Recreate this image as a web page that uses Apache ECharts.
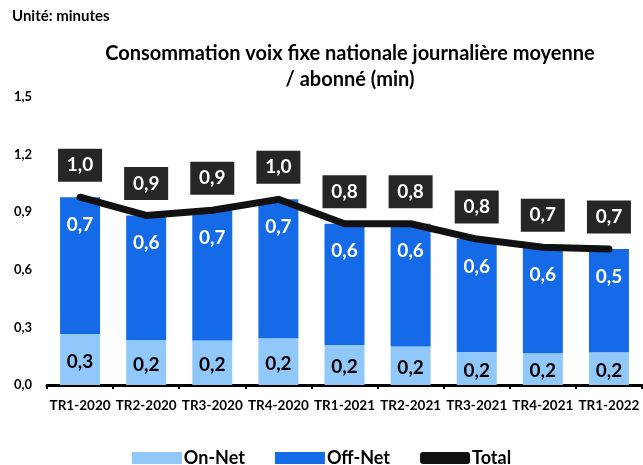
<!DOCTYPE html>
<html lang="fr">
<head>
  <meta charset="UTF-8" />
  <title>Consommation voix fixe nationale</title>
  <script src="https://cdn.jsdelivr.net/npm/echarts@6/dist/echarts.min.js"></script>
  <style>
    * { margin: 0; padding: 0; }
    body { background: #fff; }
    #chart { width: 643px; height: 465px; }
  </style>
</head>
<body>
  <div id="chart"></div>
  <script>
    const categories = ['TR1-2020', 'TR2-2020', 'TR3-2020', 'TR4-2020', 'TR1-2021', 'TR2-2021', 'TR3-2021', 'TR4-2021', 'TR1-2022'];
    const onNet = [0.266, 0.235, 0.232, 0.243, 0.208, 0.2, 0.172, 0.165, 0.17];
    const offNet = [0.712, 0.648, 0.678, 0.724, 0.632, 0.64, 0.588, 0.552, 0.538];
    const total = [0.978, 0.883, 0.91, 0.967, 0.84, 0.84, 0.76, 0.717, 0.708];
    const yTicks = [0, 0.3, 0.6, 0.9, 1.2, 1.5];

    const font = 'Lato, "Noto Sans", sans-serif';
    const fmt = v => v.toFixed(1).replace('.', ',');

    const chart = echarts.init(document.getElementById('chart'));
    chart.setOption({
      animation: false,
      textStyle: { fontFamily: font },
      graphic: [
        { type: 'text', left: 12, top: 9, style: { text: 'Unité: minutes', font: 'bold 15px ' + font, fill: '#000' } }
      ],
      title: {
        text: 'Consommation voix fixe nationale journalière moyenne\n/ abonné (min)',
        left: 345, top: 36, textAlign: 'center',
        textStyle: { fontFamily: font, fontWeight: 'bold', fontSize: 20, lineHeight: 26, color: '#000' }
      },
      legend: {
        bottom: -7, left: 'center', itemWidth: 50, itemHeight: 12, itemGap: 30,
        textStyle: { fontFamily: font, fontWeight: 'bold', fontSize: 18, color: '#000', padding: [0, 0, 0, -3] },
        data: [
          { name: 'On-Net', icon: 'rect' },
          { name: 'Off-Net', icon: 'rect' },
          { name: 'Total', icon: 'roundRect', itemStyle: { color: '#111' } }
        ]
      },
      grid: { left: 47, right: 1, top: 97, height: 288, containLabel: false },
      xAxis: {
        type: 'category', data: categories,
        axisLine: { lineStyle: { color: '#000', width: 3 } },
        axisTick: { show: true, length: 4, lineStyle: { color: '#000', width: 2 } },
        axisLabel: { color: '#000', fontWeight: 'bold', fontSize: 13.5, margin: 14, interval: 0 }
      },
      yAxis: {
        type: 'value', min: 0, max: 1.5, interval: 0.3,
        axisLine: { show: false }, axisTick: { show: false }, splitLine: { show: false },
        axisLabel: { color: '#000', fontWeight: 'bold', fontSize: 13, margin: 15,
          formatter: v => yTicks.includes(Math.round(v * 10) / 10) ? fmt(v) : '' }
      },
      series: [
        {
          name: 'On-Net', type: 'bar', stack: 'a', data: onNet, barWidth: 40,
          itemStyle: { color: '#91C8FA' },
          label: { show: true, position: 'inside', formatter: p => fmt(p.value),
            color: '#000', fontWeight: 'bold', fontSize: 19, offset: [0, 2] }
        },
        {
          name: 'Off-Net', type: 'bar', stack: 'a', data: offNet, barWidth: 40,
          itemStyle: { color: '#156BE7' },
          label: { show: true, position: 'insideTop', distance: 18, formatter: p => fmt(p.value),
            color: '#fff', fontWeight: 'bold', fontSize: 19 }
        },
        {
          name: 'Total', type: 'line', data: total, symbol: 'circle', symbolSize: 1, showSymbol: true,
          lineStyle: { color: '#111', width: 7, cap: 'round', join: 'round' },
          itemStyle: { color: '#111' },
          label: { show: true, position: 'top', distance: 15, formatter: p => fmt(p.value),
            color: '#fff', backgroundColor: '#262626', fontWeight: 'bold', fontSize: 19,
            width: 32, align: 'center', padding: [7, 6, 7, 6] },
          z: 5
        }
      ]
    });
  </script>
</body>
</html>
